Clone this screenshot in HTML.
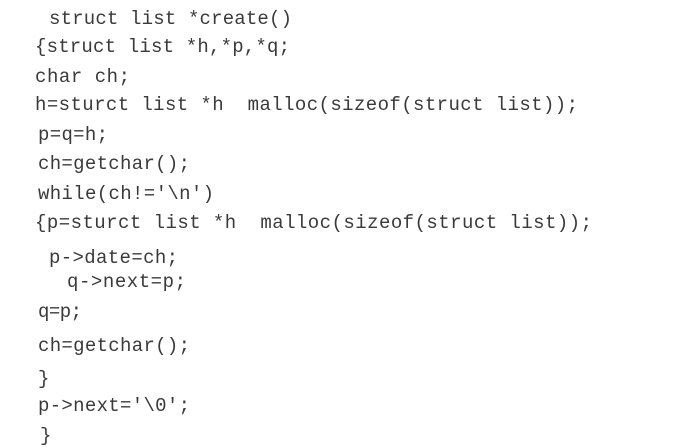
<!DOCTYPE html>
<html><head><meta charset="utf-8"><style>
html,body{margin:0;padding:0;background:#fff;}
svg{display:block;}
text{font-family:"Liberation Mono",monospace;font-size:19px;fill:#3a3a3a;white-space:pre;}
</style></head><body>
<svg width="680" height="447" xmlns="http://www.w3.org/2000/svg" xml:space="preserve">
<text x="49" y="24" textLength="243" lengthAdjust="spacing">struct list *create()</text>
<text x="35" y="52" textLength="255" lengthAdjust="spacing">{struct list *h,*p,*q;</text>
<text x="35" y="82" textLength="95" lengthAdjust="spacing">char ch;</text>
<text x="35" y="110" textLength="543" lengthAdjust="spacing">h=sturct list *h  malloc(sizeof(struct list));</text>
<text x="38" y="140" textLength="70" lengthAdjust="spacing">p=q=h;</text>
<text x="38" y="169" textLength="152" lengthAdjust="spacing">ch=getchar();</text>
<text x="38" y="199" textLength="176" lengthAdjust="spacing">while(ch!='\n')</text>
<text x="35" y="228" textLength="557" lengthAdjust="spacing">{p=sturct list *h  malloc(sizeof(struct list));</text>
<text x="49" y="263" textLength="129" lengthAdjust="spacing">p-&gt;date=ch;</text>
<text x="67" y="287" textLength="119" lengthAdjust="spacing">q-&gt;next=p;</text>
<text x="38" y="317" textLength="44" lengthAdjust="spacing">q=p;</text>
<text x="38" y="351" textLength="152" lengthAdjust="spacing">ch=getchar();</text>
<text x="38" y="384">}</text>
<text x="38" y="411" textLength="152" lengthAdjust="spacing">p-&gt;next='\0';</text>
<text x="40" y="441">}</text>
</svg>
</body></html>
